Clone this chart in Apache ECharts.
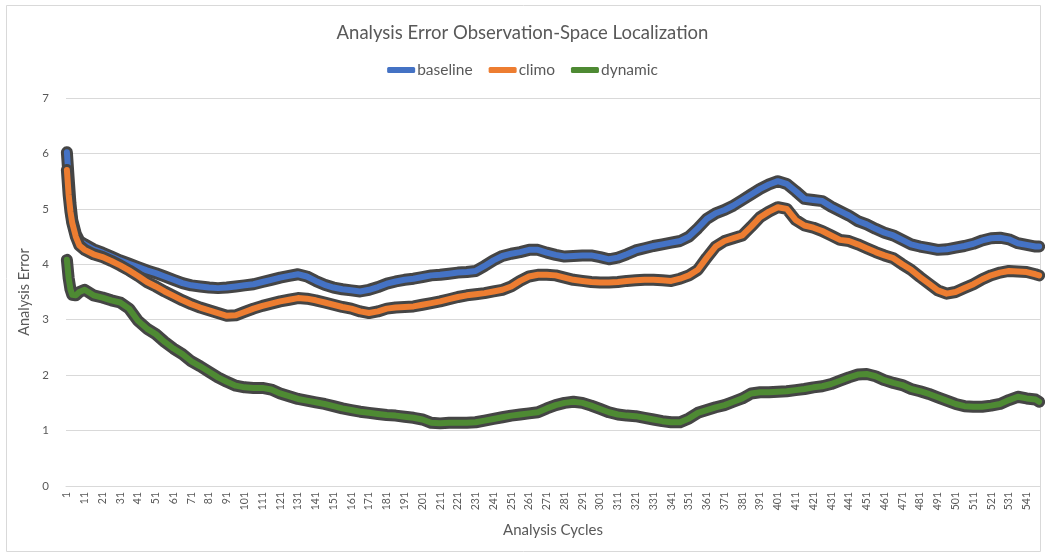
<!DOCTYPE html>
<html>
<head>
<meta charset="utf-8">
<script src="https://cdn.jsdelivr.net/npm/echarts@6/dist/echarts.min.js"></script>
<style>
  html, body { margin: 0; padding: 0; background: #ffffff; }
  #chart { width: 1045px; height: 557px; }
</style>
</head>
<body>
<div id="chart"></div>
<script>
// ---- Data ----
const chartTitle = 'Analysis Error Observation-Space Localization';
const seriesNames = ['baseline', 'climo', 'dynamic'];
const cycleCount = 548;

const sampleCycles = [1, 2, 3, 4, 6, 8,
  11, 16, 21, 26, 31, 36, 41, 46, 51, 56,
  61, 66, 71, 76, 81, 86, 91, 96, 101, 106,
  111, 116, 121, 126, 131, 136, 141, 146, 151, 156,
  161, 166, 171, 176, 181, 186, 191, 196, 201, 206,
  211, 216, 221, 226, 231, 236, 241, 246, 251, 256,
  261, 266, 271, 276, 281, 286, 291, 296, 301, 306,
  311, 316, 321, 326, 331, 336, 341, 346, 351, 356,
  361, 366, 371, 376, 381, 386, 391, 396, 401, 406,
  411, 416, 421, 426, 431, 436, 441, 446, 451, 456,
  461, 466, 471, 476, 481, 486, 491, 496, 501, 506,
  511, 516, 521, 526, 531, 536, 541, 546,
  548];

const baseline = [6.02, 5.55, 5.10, 4.80, 4.55, 4.42,
  4.36, 4.27, 4.21, 4.14, 4.07, 4.01, 3.95, 3.89, 3.84, 3.78,
  3.72, 3.66, 3.62, 3.60, 3.58, 3.57, 3.58, 3.60, 3.62, 3.64,
  3.68, 3.72, 3.76, 3.79, 3.82, 3.78, 3.70, 3.63, 3.58, 3.55,
  3.53, 3.51, 3.54, 3.59, 3.65, 3.69, 3.72, 3.74, 3.77, 3.80,
  3.81, 3.83, 3.85, 3.86, 3.88, 3.97, 4.07, 4.15, 4.19, 4.22,
  4.26, 4.26, 4.21, 4.17, 4.14, 4.15, 4.16, 4.16, 4.13, 4.09,
  4.12, 4.18, 4.25, 4.29, 4.33, 4.36, 4.39, 4.42, 4.50, 4.65,
  4.82, 4.92, 4.98, 5.06, 5.16, 5.26, 5.36, 5.44, 5.50, 5.45,
  5.32, 5.18, 5.16, 5.14, 5.04, 4.96, 4.88, 4.78, 4.72, 4.64,
  4.57, 4.52, 4.44, 4.36, 4.32, 4.29, 4.26, 4.27, 4.30, 4.33,
  4.37, 4.43, 4.47, 4.48, 4.45, 4.38, 4.35, 4.32,
  4.32];

const climo = [5.70, 5.25, 4.95, 4.75, 4.50, 4.34,
  4.26, 4.18, 4.13, 4.06, 3.98, 3.89, 3.79, 3.68, 3.60, 3.51,
  3.43, 3.35, 3.28, 3.22, 3.17, 3.12, 3.07, 3.08, 3.14, 3.20,
  3.25, 3.29, 3.33, 3.36, 3.39, 3.38, 3.35, 3.31, 3.27, 3.23,
  3.20, 3.15, 3.12, 3.15, 3.20, 3.22, 3.23, 3.24, 3.27, 3.30,
  3.33, 3.37, 3.41, 3.44, 3.46, 3.48, 3.51, 3.54, 3.60, 3.70,
  3.78, 3.81, 3.81, 3.80, 3.76, 3.72, 3.70, 3.68, 3.67, 3.67,
  3.68, 3.70, 3.71, 3.72, 3.72, 3.71, 3.70, 3.74, 3.80, 3.90,
  4.12, 4.32, 4.42, 4.47, 4.52, 4.68, 4.85, 4.95, 5.03, 5.00,
  4.80, 4.70, 4.66, 4.60, 4.52, 4.44, 4.42, 4.36, 4.29, 4.22,
  4.16, 4.11, 4.00, 3.90, 3.77, 3.65, 3.53, 3.47, 3.50, 3.57,
  3.64, 3.73, 3.80, 3.85, 3.88, 3.87, 3.86, 3.82,
  3.80];

const dynamic = [4.08, 3.75, 3.55, 3.45, 3.44, 3.50,
  3.54, 3.44, 3.40, 3.35, 3.31, 3.20, 2.98, 2.84, 2.74, 2.60,
  2.48, 2.38, 2.25, 2.16, 2.06, 1.96, 1.88, 1.81, 1.78, 1.77,
  1.77, 1.74, 1.67, 1.62, 1.57, 1.54, 1.51, 1.48, 1.44, 1.40,
  1.37, 1.34, 1.32, 1.30, 1.28, 1.27, 1.25, 1.23, 1.20, 1.14,
  1.13, 1.14, 1.14, 1.14, 1.15, 1.18, 1.21, 1.24, 1.27, 1.29,
  1.31, 1.33, 1.40, 1.46, 1.50, 1.52, 1.50, 1.45, 1.39, 1.33,
  1.29, 1.27, 1.26, 1.23, 1.20, 1.17, 1.15, 1.15, 1.22, 1.32,
  1.37, 1.42, 1.46, 1.52, 1.58, 1.67, 1.69, 1.69, 1.70, 1.71,
  1.73, 1.75, 1.78, 1.80, 1.84, 1.90, 1.96, 2.01, 2.02, 1.98,
  1.91, 1.86, 1.82, 1.75, 1.71, 1.66, 1.60, 1.54, 1.48, 1.44,
  1.43, 1.43, 1.45, 1.48, 1.55, 1.61, 1.58, 1.56,
  1.52];

const yTicks = [0, 1, 2, 3, 4, 5, 6, 7];

// ---- Build ----
const categories = [];
for (let i = 1; i <= cycleCount; i++) categories.push(String(i));

const colors = ['#4472C4', '#ED7D31', '#4E8A33'];
const values = [baseline, climo, dynamic];
const textColor = '#595959';
const font = 'Lato, "Open Sans", sans-serif';

function pairs(arr) {
  return sampleCycles.map((c, i) => [c - 1, arr[i]]);
}

const series = [];
values.forEach((arr, k) => {
  // dark gray error-bar band underneath
  series.push({
    name: seriesNames[k] + ' error',
    type: 'line',
    data: pairs(arr),
    showSymbol: false,
    silent: true,
    z: 2 + k * 2,
    lineStyle: { color: '#454545', width: 12, join: 'round', cap: 'round' },
    emphasis: { disabled: true }
  });
  series.push({
    name: seriesNames[k],
    type: 'line',
    data: pairs(arr),
    showSymbol: false,
    z: 3 + k * 2,
    color: colors[k],
    lineStyle: { color: colors[k], width: 6, join: 'round', cap: 'round' },
    emphasis: { disabled: true }
  });
});

const chart = echarts.init(document.getElementById('chart'), null, { renderer: 'canvas' });
chart.setOption({
  animation: false,
  backgroundColor: '#ffffff',
  textStyle: { fontFamily: font },
  title: {
    text: chartTitle,
    left: 'center',
    top: 19,
    textStyle: { fontFamily: font, fontSize: 18.5, fontWeight: 'normal', color: textColor }
  },
  legend: {
    data: seriesNames,
    top: 57,
    left: 'center',
    icon: 'roundRect',
    itemWidth: 28,
    itemHeight: 6,
    itemGap: 16,
    textStyle: { fontFamily: font, fontSize: 15.5, color: textColor, padding: [0, 0, 0, -3] }
  },
  grid: { left: 66, right: 5, top: 98, bottom: 71 },
  xAxis: {
    type: 'category',
    data: categories,
    boundaryGap: true,
    name: 'Analysis Cycles',
    nameLocation: 'middle',
    nameGap: 37,
    nameTextStyle: { fontFamily: font, fontSize: 15, color: textColor },
    axisLine: { lineStyle: { color: '#d9d9d9', width: 1 } },
    axisTick: { show: false },
    axisLabel: { interval: 9, rotate: 90, fontSize: 10.5, color: textColor, margin: 6, fontFamily: font },
    splitLine: { show: false }
  },
  yAxis: {
    type: 'value',
    min: yTicks[0],
    max: yTicks[yTicks.length - 1],
    interval: 1,
    name: 'Analysis Error',
    nameLocation: 'middle',
    nameGap: 30,
    nameTextStyle: { fontFamily: font, fontSize: 14.5, color: textColor },
    axisLine: { show: false },
    axisTick: { show: false },
    axisLabel: { fontSize: 11.5, color: textColor, margin: 17, fontFamily: font },
    splitLine: { lineStyle: { color: '#d9d9d9', width: 1 } }
  },
  graphic: [{
    type: 'rect',
    shape: { x: 6.5, y: 5.5, width: 1034, height: 546 },
    style: { fill: 'none', stroke: '#d9d9d9', lineWidth: 1 },
    silent: true,
    z: -1
  }],
  series: series
});
</script>
</body>
</html>
